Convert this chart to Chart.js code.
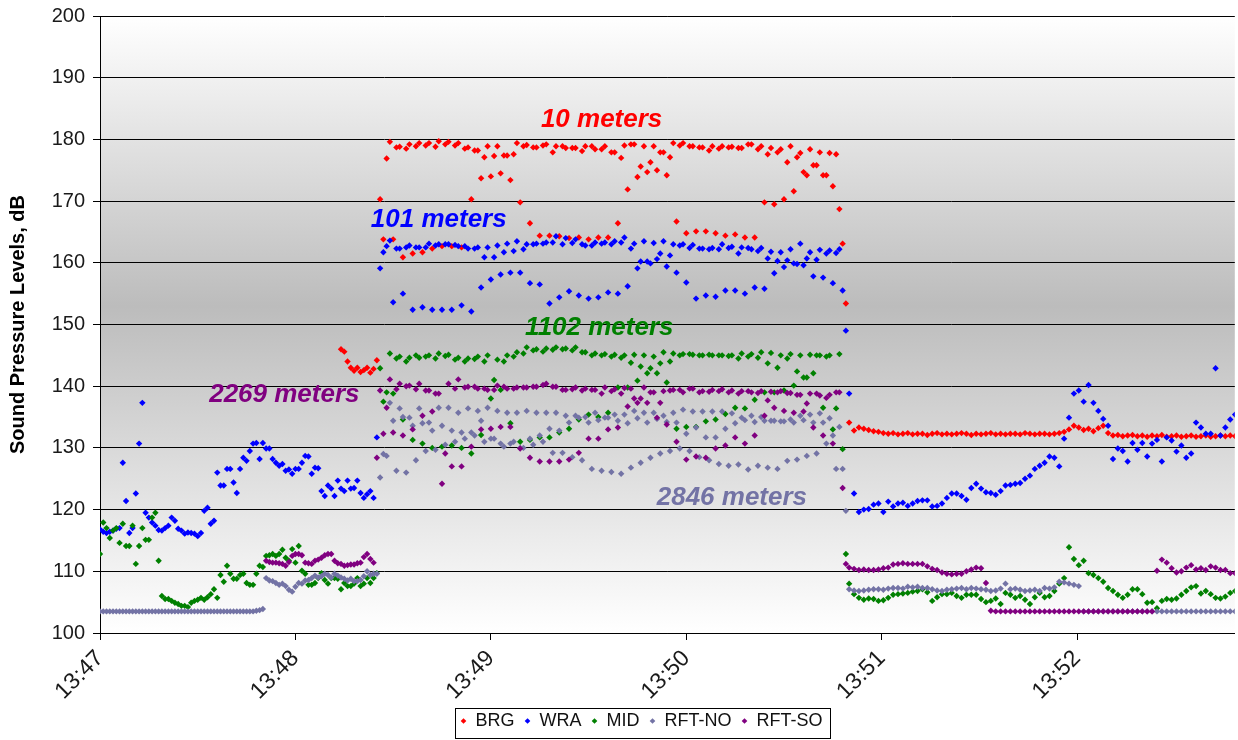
<!DOCTYPE html>
<html>
<head>
<meta charset="utf-8">
<script src="https://cdn.jsdelivr.net/npm/chart.js@4.4.1/dist/chart.umd.min.js"></script>
<style>
  html, body { margin: 0; padding: 0; background: #ffffff; }
  #wrap { width: 1238px; height: 740px; position: relative; }
</style>
</head>
<body>
<div id="wrap"><canvas id="c" width="1238" height="740"></canvas></div>
<script>
// ---- axis / category data (time in seconds after 13:47:00) ----
const xTickValues = [0, 60, 120, 180, 240, 300];
const xTickLabels = ['13:47', '13:48', '13:49', '13:50', '13:51', '13:52'];
const seriesNames = ['BRG', 'WRA', 'MID', 'RFT-NO', 'RFT-SO'];

// sampling of the segments (seconds)
const preStep = 1;
const brgPreStart = 74;
const rftsoPreStart = 51;
const allPreStart = 0;
const midStartA = 86, midStartB = 87, midStartC = 88, midStep = 3;
const postStart = 230, postStep = 1.5;

// ---- BRG ----
const brgPre = [146.0, 145.6, 144.0, 143.0, 142.5, 143.0, 142.3, 142.6, 143.0, 142.2, 142.8, 144.2];
const brgMidA = [170.3, 179.6, 178.8, 179.2, 179.4, 179.4, 179.7, 179.6, 179.4, 178.7,
 178.2, 178.9, 178.9, 177.4, 179.4, 179.1, 178.7, 179.2, 178.9, 178.6,
 178.6, 178.9, 178.4, 178.9, 177.9, 179.0, 179.2, 178.9, 178.9, 177.9,
 179.4, 179.4, 178.9, 178.7, 178.9, 178.9, 178.8, 178.6, 179.2, 178.9,
 178.6, 178.4, 178.9, 177.8, 178.4, 177.9, 177.8, 168.7];
const brgMidB = [163.8, 163.8, 160.9, 161.5, 161.7, 162.3, 162.7, 162.7, 162.5, 170.3,
 173.7, 174.0, 174.5, 173.4, 169.8, 166.4, 164.4, 164.4, 164.3, 164.0,
 164.1, 163.8, 164.1, 164.1, 166.4, 171.9, 173.9, 174.7, 175.0, 174.2,
 166.7, 164.8, 165.1, 165.1, 164.8, 164.4, 164.6, 164.1, 164.1, 169.8,
 169.5, 170.3, 171.6, 174.7, 175.8, 174.2, 172.4, 163.1];
const brgMidC = [176.9, 178.7, 178.5, 178.9, 179.0, 178.8, 179.2, 179.0, 178.5, 178.2,
 177.1, 177.3, 177.4, 177.6, 178.9, 178.7, 179.0, 177.9, 178.9, 178.6,
 178.1, 178.9, 178.4, 177.9, 177.0, 179.2, 175.6, 176.3, 177.9, 177.1,
 179.0, 178.9, 178.7, 178.2, 178.5, 178.7, 178.6, 179.2, 178.4, 177.6,
 177.9, 176.3, 177.1, 174.2, 175.8, 174.2, 177.6, 153.4];
const brgPost = [134.1, 132.8, 133.3, 133.1, 132.9, 132.7, 132.6, 132.4, 132.3, 132.4,
 132.2, 132.3, 132.4, 132.2, 132.3, 132.3, 132.1, 132.3, 132.4, 132.2,
 132.3, 132.2, 132.3, 132.4, 132.3, 132.1, 132.3, 132.2, 132.3, 132.4,
 132.2, 132.3, 132.2, 132.3, 132.3, 132.2, 132.4, 132.3, 132.2, 132.3,
 132.3, 132.2, 132.3, 132.4, 132.6, 133.0, 133.6, 133.3, 132.9, 133.1,
 132.7, 133.2, 133.6, 132.4, 132.0, 132.1, 131.9, 132.0, 132.1, 131.9,
 132.0, 131.8, 132.0, 131.9, 132.1, 131.8, 131.9, 132.0, 131.8, 131.9,
 132.0, 131.8, 131.9, 132.0, 131.8, 131.9, 132.0, 131.9, 132.0, 131.9];

// ---- WRA ----
const wraPre = [116.8, 116.4, 116.2, 116.4, 116.6, 116.9, 117.0, 127.6, 121.4, 116.2,
 117.0, 122.6, 130.7, 137.3, 119.5, 118.7, 117.9, 117.4, 116.7, 116.6,
 117.0, 117.4, 118.7, 118.2, 116.9, 116.6, 116.1, 116.3, 116.2, 116.1,
 115.7, 116.2, 119.8, 120.3, 117.7, 118.2, 126.0, 123.9, 123.9, 126.6,
 126.6, 124.4, 122.7, 126.6, 128.4, 127.9, 129.5, 130.7, 130.8, 128.2,
 130.8, 129.9, 129.9, 128.2, 127.6, 127.1, 127.4, 126.3, 126.5, 125.8,
 126.6, 126.6, 127.6, 128.7, 128.6, 125.8, 126.8, 126.7, 123.0, 122.2,
 123.9, 123.4, 122.2, 124.7, 123.4, 123.0, 124.7, 123.4, 123.5, 124.7,
 122.7, 121.9, 122.5, 123.0, 121.9, 131.7];
const wraMidA = [159.1, 163.6, 162.3, 162.8, 162.5, 163.1, 163.0, 163.0, 162.7, 162.3,
 162.5, 162.5, 162.8, 163.1, 163.5, 163.0, 163.1, 163.3, 164.3, 164.0,
 163.8, 162.8, 163.3, 163.3, 163.5, 164.1, 163.1, 163.5, 163.2, 163.5,
 163.0, 163.0, 162.9, 162.3, 162.4, 163.0, 162.6, 162.5, 162.2, 162.4,
 161.8, 161.7, 162.2, 163.1, 161.7, 162.1, 162.0, 162.2];
const wraMidB = [161.7, 153.6, 155.0, 152.4, 152.8, 152.4, 152.4, 152.4, 153.1, 152.1,
 156.0, 157.3, 158.1, 158.4, 158.4, 156.7, 156.5, 153.4, 154.4, 155.4,
 154.7, 154.2, 154.4, 155.2, 155.0, 156.2, 159.1, 160.2, 160.6, 159.4,
 158.4, 156.8, 154.2, 154.7, 154.5, 155.5, 155.5, 155.0, 156.0, 155.8,
 158.3, 159.3, 159.9, 159.6, 157.8, 157.6, 156.7, 155.5];
const wraMidC = [162.7, 162.3, 162.5, 162.5, 162.5, 162.8, 163.0, 162.9, 162.7, 162.3,
 160.9, 160.9, 161.7, 161.9, 162.2, 163.0, 163.1, 163.3, 163.0, 163.2,
 163.0, 162.8, 163.1, 163.0, 163.3, 162.3, 160.2, 159.9, 161.5, 161.2,
 162.8, 162.4, 162.3, 162.2, 162.2, 162.4, 161.5, 162.4, 161.9, 160.7,
 160.3, 160.4, 159.8, 160.7, 160.5, 161.5, 161.6, 149.0];
const wraPost = [138.8, 122.6, 119.6, 120.0, 120.1, 120.8, 121.0, 119.6, 121.3, 120.5,
 121.0, 121.1, 120.6, 121.0, 121.4, 121.5, 121.5, 120.5, 120.6, 121.0,
 121.9, 122.6, 122.6, 122.2, 121.6, 123.5, 124.2, 123.4, 122.8, 122.7,
 122.4, 123.0, 123.9, 124.0, 124.2, 124.3, 125.0, 125.5, 126.6, 127.1,
 127.6, 128.6, 128.4, 127.0, 131.5, 134.9, 138.8, 139.3, 137.5, 140.2,
 137.3, 136.0, 134.7, 133.6, 128.2, 129.9, 129.5, 127.8, 130.8, 129.7,
 130.8, 128.6, 130.7, 131.3, 127.8, 131.7, 131.2, 129.4, 130.4, 128.4,
 129.1, 134.1, 133.3, 132.3, 132.3, 142.9, 132.0, 133.3, 134.6, 135.4];

// ---- MID ----
const midPre = [112.8, 117.9, 117.0, 115.4, 116.6, 117.0, 114.6, 117.7, 114.1, 114.1,
 117.4, 111.2, 114.1, 117.0, 115.1, 115.1, 118.7, 119.5, 111.7, 106.0,
 105.5, 105.5, 105.2, 104.9, 104.7, 104.4, 104.4, 104.2, 104.9, 105.2,
 105.4, 105.7, 105.4, 105.8, 106.3, 107.1, 105.7, 109.4, 108.3, 110.9,
 109.6, 108.8, 108.8, 109.4, 109.6, 108.1, 107.8, 107.8, 109.6, 110.9,
 110.7, 112.5, 112.6, 112.8, 112.5, 112.8, 113.5, 112.2, 111.7, 113.6,
 111.4, 114.1, 110.1, 109.6, 107.8, 107.8, 108.1, 108.9, 109.7, 108.6,
 108.0, 108.9, 108.9, 108.8, 107.1, 108.1, 107.6, 107.6, 108.0, 108.9,
 107.6, 108.0, 108.9, 108.1, 108.9, 109.7];
const midMidA = [142.9, 145.3, 144.8, 144.6, 144.6, 145.0, 145.3, 145.1, 144.6, 144.5,
 144.8, 145.0, 144.3, 145.0, 145.5, 146.3, 146.0, 146.1, 146.3, 146.1,
 146.3, 145.5, 145.3, 145.2, 145.1, 145.0, 145.1, 145.0, 144.8, 145.5,
 145.3, 145.2, 145.1, 145.0, 145.0, 145.0, 145.0, 145.3, 145.2, 145.5,
 145.4, 145.0, 145.2, 145.0, 145.1, 145.0, 145.0, 145.2];
const midMidB = [137.5, 138.8, 134.6, 131.3, 130.7, 130.0, 130.2, 130.4, 130.0, 129.1,
 132.1, 138.0, 139.4, 134.0, 131.0, 131.3, 131.7, 131.7, 132.5, 133.1,
 134.6, 135.4, 135.0, 135.7, 139.8, 139.8, 140.9, 142.1, 142.1, 140.6,
 133.1, 133.4, 133.4, 134.3, 134.6, 135.5, 136.5, 136.4, 137.8, 139.0,
 139.0, 139.3, 140.1, 141.4, 142.1, 136.5, 133.0, 129.8];
const midMidC = [139.0, 144.5, 144.0, 145.0, 144.8, 144.5, 144.9, 144.3, 144.0, 144.4,
 144.0, 141.0, 144.0, 144.8, 145.3, 145.8, 145.6, 145.9, 146.0, 145.8,
 145.5, 145.0, 145.0, 144.8, 144.6, 143.8, 143.2, 142.9, 143.7, 144.0,
 145.0, 145.2, 145.0, 145.1, 145.0, 144.9, 144.5, 144.8, 144.6, 143.7,
 143.0, 144.5, 142.4, 141.4, 145.0, 144.8, 136.4, 112.8];
const midPost = [108.0, 106.3, 105.7, 105.4, 105.6, 105.5, 105.2, 105.3, 105.7, 106.2,
 106.3, 106.4, 106.5, 106.7, 106.8, 107.1, 106.6, 105.2, 105.8, 106.3,
 106.3, 106.5, 106.0, 105.7, 106.2, 106.2, 106.2, 105.5, 105.0, 105.2,
 105.6, 104.7, 106.5, 106.2, 105.7, 106.0, 105.4, 104.7, 105.8, 106.5,
 105.8, 106.0, 106.8, 108.0, 108.9, 113.9, 112.0, 111.0, 111.7, 109.7,
 109.4, 108.9, 108.3, 107.3, 106.8, 106.2, 105.7, 106.2, 107.1, 107.1,
 106.3, 104.9, 105.0, 104.0, 105.2, 105.5, 105.4, 105.6, 106.2, 106.8,
 107.4, 107.6, 106.4, 106.8, 106.3, 105.7, 105.6, 105.9, 106.5, 106.8];

// ---- RFT-NO ----
const rftnoPre = [103.5, 103.5, 103.5, 103.5, 103.5, 103.5, 103.5, 103.5, 103.5, 103.5,
 103.5, 103.5, 103.5, 103.5, 103.5, 103.5, 103.5, 103.5, 103.5, 103.5,
 103.5, 103.5, 103.5, 103.5, 103.5, 103.5, 103.5, 103.5, 103.5, 103.5,
 103.5, 103.5, 103.5, 103.5, 103.5, 103.5, 103.5, 103.5, 103.5, 103.5,
 103.5, 103.5, 103.5, 103.5, 103.5, 103.5, 103.5, 103.5, 103.6, 103.7,
 103.9, 108.9, 108.5, 108.4, 108.1, 107.8, 108.0, 107.6, 107.0, 106.7,
 107.5, 108.1, 108.0, 108.5, 108.6, 108.9, 109.3, 109.0, 109.2, 109.6,
 109.4, 109.0, 109.6, 109.3, 109.0, 108.8, 108.5, 108.8, 108.4, 108.4,
 108.6, 109.2, 110.0, 109.4, 109.6, 109.6];
const rftnoMidA = [125.2, 137.3, 136.4, 134.9, 136.4, 134.1, 136.5, 136.5, 135.7, 136.4,
 136.0, 136.5, 136.0, 135.7, 135.7, 136.0, 135.7, 135.7, 135.7, 135.2,
 135.2, 135.0, 135.7, 134.9, 135.4, 135.4, 136.0, 135.7, 135.7, 135.2,
 135.7, 136.2, 135.9, 135.9, 135.9, 135.9, 135.6, 134.9, 135.2, 135.0,
 134.4, 134.3, 134.6, 135.2, 135.4, 135.6, 134.8, 133.4];
const rftnoMidB = [129.0, 134.4, 135.0, 133.6, 134.0, 132.8, 133.6, 132.8, 132.5, 132.5,
 134.4, 131.5, 130.7, 130.7, 130.0, 131.5, 132.0, 133.1, 132.8, 134.1,
 134.9, 134.1, 134.5, 134.9, 134.4, 134.0, 134.8, 134.1, 134.7, 134.2,
 134.1, 132.3, 133.3, 131.7, 131.7, 133.1, 134.0, 134.5, 134.2, 134.4,
 134.4, 134.3, 134.1, 134.5, 134.1, 134.1, 132.0, 126.6];
const rftnoMidC = [128.7, 126.3, 126.0, 128.0, 129.5, 129.7, 130.5, 131.0, 131.5, 132.0,
 131.0, 131.5, 130.2, 131.0, 130.0, 130.5, 131.0, 129.2, 129.2, 128.5,
 128.0, 126.6, 126.3, 126.1, 125.8, 126.8, 127.6, 128.4, 129.1, 129.5,
 129.9, 129.5, 128.5, 128.0, 127.4, 127.1, 127.3, 126.5, 127.1, 126.8,
 126.6, 127.9, 128.1, 128.7, 129.1, 130.7, 126.6, 119.8];
const rftnoPost = [107.1, 106.9, 106.8, 106.9, 107.0, 107.1, 107.1, 107.0, 107.2, 107.3,
 107.3, 107.2, 107.5, 107.4, 107.5, 107.3, 107.3, 107.1, 106.9, 106.8,
 107.0, 107.1, 107.2, 107.3, 107.1, 107.3, 107.2, 107.1, 107.0, 106.8,
 106.9, 107.2, 108.0, 107.1, 107.2, 107.0, 106.8, 106.9, 107.0, 106.8,
 107.3, 107.2, 107.4, 108.3, 108.2, 108.0, 107.8, 107.6, 103.5, 103.5,
 103.5, 103.5, 103.5, 103.5, 103.5, 103.5, 103.5, 103.5, 103.5, 103.5,
 103.5, 103.5, 103.5, 103.5, 103.5, 103.5, 103.5, 103.5, 103.5, 103.5,
 103.5, 103.5, 103.5, 103.5, 103.5, 103.5, 103.5, 103.5, 103.5, 103.5];

// ---- RFT-SO ----
const rftsoPre = [111.7, 111.5, 111.4, 111.4, 111.3, 111.2, 110.9, 111.5, 112.5, 112.8,
 112.8, 112.6, 111.4, 111.3, 111.2, 111.7, 111.9, 112.2, 112.6, 112.8,
 112.8, 111.7, 111.3, 111.2, 110.9, 111.0, 111.1, 111.1, 111.3, 111.4,
 112.3, 112.8, 112.0, 111.4, 128.4];
const rftsoMidA = [139.3, 141.1, 140.4, 140.1, 140.4, 139.3, 138.8, 140.4, 141.1, 139.9,
 139.6, 139.4, 140.1, 139.6, 139.8, 139.8, 139.9, 140.4, 139.9, 139.4,
 139.8, 139.6, 139.4, 139.8, 139.5, 139.7, 138.0, 139.8, 139.0, 139.2,
 139.4, 139.0, 139.6, 139.2, 139.4, 139.5, 139.3, 139.2, 139.0, 139.2,
 139.1, 139.2, 138.9, 138.6, 138.8, 138.5, 138.6, 139.0];
const rftsoMidB = [132.3, 132.5, 132.0, 133.0, 135.2, 135.9, 124.2, 127.0, 127.0, 130.2,
 133.0, 133.1, 133.4, 133.4, 129.9, 128.4, 127.8, 127.8, 127.8, 128.1,
 129.2, 131.5, 131.5, 133.0, 133.3, 136.7, 137.3, 137.3, 134.9, 133.8,
 131.0, 128.1, 128.6, 128.4, 129.9, 130.4, 131.7, 130.7, 132.0, 135.2,
 136.5, 136.0, 135.7, 135.9, 133.3, 132.0, 130.7, 123.5];
const rftsoMidC = [136.5, 139.5, 140.0, 139.5, 139.3, 138.8, 129.1, 139.6, 139.8, 139.9,
 139.6, 139.4, 139.9, 139.6, 139.8, 139.9, 140.2, 139.9, 139.4, 139.5,
 139.3, 139.4, 138.8, 139.2, 138.8, 139.6, 138.0, 139.0, 137.3, 139.3,
 139.4, 139.6, 139.0, 139.1, 139.2, 139.0, 138.8, 139.2, 138.9, 137.7,
 139.0, 138.9, 138.6, 137.2, 138.8, 138.1, 139.0, 111.2];
const rftsoPost = [110.6, 110.4, 110.2, 110.3, 110.2, 110.2, 110.3, 110.5, 110.6, 111.1,
 111.2, 111.3, 111.2, 111.2, 111.2, 111.2, 110.8, 110.4, 110.2, 109.8,
 109.6, 109.5, 109.6, 109.6, 110.0, 110.3, 110.6, 110.5, 108.1, 103.6,
 103.5, 103.5, 103.5, 103.5, 103.5, 103.5, 103.5, 103.5, 103.5, 103.5,
 103.5, 103.5, 103.5, 103.5, 103.5, 103.5, 103.5, 103.5, 103.5, 103.5,
 103.5, 103.5, 103.5, 103.5, 103.5, 103.5, 103.5, 103.5, 103.5, 103.5,
 103.5, 103.5, 103.5, 110.1, 111.9, 111.4, 110.5, 109.8, 110.0, 110.6,
 111.0, 110.3, 110.5, 110.2, 110.8, 110.6, 110.2, 110.2, 109.7, 109.7];

// ---- annotation labels (in data units) ----
const noteTexts = ['10 meters', '101 meters', '1102 meters', '2269 meters', '2846 meters'];
const noteSeries = [0, 1, 2, 4, 3];
const noteTime = [154, 104, 153.3, 56.6, 194];
const noteLevel = [183.2, 167.0, 149.4, 138.6, 121.9];

// ---- build ----
const seriesColors = ['#ff0000', '#0000ff', '#008000', '#7373a5', '#800080'];
function seg(start, step, values) {
  return values.map((v, i) => ({ x: start + i * step, y: v }));
}
const seriesPoints = [
  [].concat(seg(brgPreStart, preStep, brgPre), seg(midStartA, midStep, brgMidA), seg(midStartB, midStep, brgMidB), seg(midStartC, midStep, brgMidC), seg(postStart, postStep, brgPost)),
  [].concat(seg(allPreStart, preStep, wraPre), seg(midStartA, midStep, wraMidA), seg(midStartB, midStep, wraMidB), seg(midStartC, midStep, wraMidC), seg(postStart, postStep, wraPost)),
  [].concat(seg(allPreStart, preStep, midPre), seg(midStartA, midStep, midMidA), seg(midStartB, midStep, midMidB), seg(midStartC, midStep, midMidC), seg(postStart, postStep, midPost)),
  [].concat(seg(allPreStart, preStep, rftnoPre), seg(midStartA, midStep, rftnoMidA), seg(midStartB, midStep, rftnoMidB), seg(midStartC, midStep, rftnoMidC), seg(postStart, postStep, rftnoPost)),
  [].concat(seg(rftsoPreStart, preStep, rftsoPre), seg(midStartA, midStep, rftsoMidA), seg(midStartB, midStep, rftsoMidB), seg(midStartC, midStep, rftsoMidC), seg(postStart, postStep, rftsoPost))
];

const datasets = seriesNames.map((name, i) => ({
  label: name,
  data: seriesPoints[i],
  showLine: false,
  pointStyle: 'rectRot',
  pointRadius: 3.2,
  pointHoverRadius: 3.2,
  borderWidth: 0,
  backgroundColor: seriesColors[i],
  borderColor: seriesColors[i],
  order: seriesNames.length - i
}));

const FONT = '"Liberation Sans", Arial, Helvetica, sans-serif';
Chart.defaults.font.family = FONT;
Chart.defaults.color = '#1a1a1a';

const bgPlugin = {
  id: 'bg',
  beforeDraw(chart) {
    const { ctx, chartArea: a } = chart;
    ctx.save();
    ctx.fillStyle = '#ffffff';
    ctx.fillRect(0, 0, chart.width, chart.height);
    const g = ctx.createLinearGradient(0, a.top, 0, a.bottom);
    g.addColorStop(0, '#ffffff');
    g.addColorStop(0.47, '#bcbcbc');
    g.addColorStop(1, '#ffffff');
    ctx.fillStyle = g;
    ctx.fillRect(a.left, a.top, a.right - a.left, a.bottom - a.top);
    ctx.restore();
  }
};

const notePlugin = {
  id: 'notes',
  afterDatasetsDraw(chart) {
    const { ctx } = chart;
    const xs = chart.scales.x, ys = chart.scales.y;
    ctx.save();
    ctx.font = 'italic bold 26px ' + FONT;
    ctx.textAlign = 'center';
    ctx.textBaseline = 'middle';
    noteTexts.forEach((t, i) => {
      ctx.fillStyle = seriesColors[noteSeries[i]];
      ctx.fillText(t, xs.getPixelForValue(noteTime[i]), ys.getPixelForValue(noteLevel[i]));
    });
    ctx.restore();
  }
};

const legendShiftPlugin = {
  id: 'legendShift',
  afterLayout(chart) {
    const lg = chart.legend;
    if (lg) { lg.left += 21; lg.right += 21; }
  }
};

const legendBoxPlugin = {
  id: 'legendBox',
  afterDraw(chart) {
    const boxes = chart.legend && chart.legend.legendHitBoxes;
    if (!boxes || !boxes.length) return;
    const l = Math.min(...boxes.map(b => b.left));
    const r = Math.max(...boxes.map(b => b.left + b.width));
    const t = Math.min(...boxes.map(b => b.top));
    const btm = Math.max(...boxes.map(b => b.top + b.height));
    const ctx = chart.ctx;
    ctx.save();
    ctx.strokeStyle = '#000000';
    ctx.lineWidth = 1;
    ctx.strokeRect(Math.round(l - 6) + 0.5, Math.round(t - 4) + 0.5, Math.round(r - l + 13), Math.round(btm - t + 12));
    ctx.restore();
  }
};

new Chart(document.getElementById('c'), {
  type: 'scatter',
  data: { datasets },
  plugins: [bgPlugin, notePlugin, legendShiftPlugin, legendBoxPlugin],
  options: {
    responsive: false,
    animation: false,
    events: [],
    layout: { padding: { top: 16, right: -3, bottom: 0, left: 0 } },
    plugins: {
      tooltip: { enabled: false },
      legend: {
        position: 'bottom',
        labels: {
          usePointStyle: true,
          boxWidth: 6,
          boxHeight: 4,
          padding: 10,
          color: '#111111',
          font: { size: 18, family: FONT },
          sort: (a, b) => a.datasetIndex - b.datasetIndex
        }
      }
    },
    scales: {
      x: {
        type: 'linear',
        min: 0,
        max: 348.4,
        afterFit: s => { s.height = 69; s.paddingLeft = 0; s.paddingRight = 0; },
        afterBuildTicks: s => { s.ticks = xTickValues.map(v => ({ value: v })); },
        grid: { display: true, drawOnChartArea: false, drawTicks: true, tickLength: 7, color: '#000000' },
        border: { display: true, color: '#000000', width: 1 },
        ticks: {
          autoSkip: false,
          maxRotation: 45,
          minRotation: 45,
          padding: 5,
          color: '#1a1a1a',
          font: { size: 23, family: FONT },
          callback: v => xTickLabels[xTickValues.indexOf(v)]
        }
      },
      y: {
        min: 100,
        max: 200,
        afterFit: s => { s.width = 100; s.paddingTop = 0; s.paddingBottom = 0; },
        grid: { color: '#000000', lineWidth: 1, tickLength: 7, drawTicks: true },
        border: { display: true, color: '#000000', width: 1 },
        ticks: {
          stepSize: 10,
          padding: 8,
          color: '#1a1a1a',
          font: { size: 20, family: FONT }
        },
        title: {
          display: true,
          text: 'Sound Pressure Levels, dB',
          color: '#000000',
          font: { size: 20, weight: 'bold', family: FONT },
          padding: { top: 6, bottom: 4 }
        }
      }
    }
  }
});
</script>
</body>
</html>
